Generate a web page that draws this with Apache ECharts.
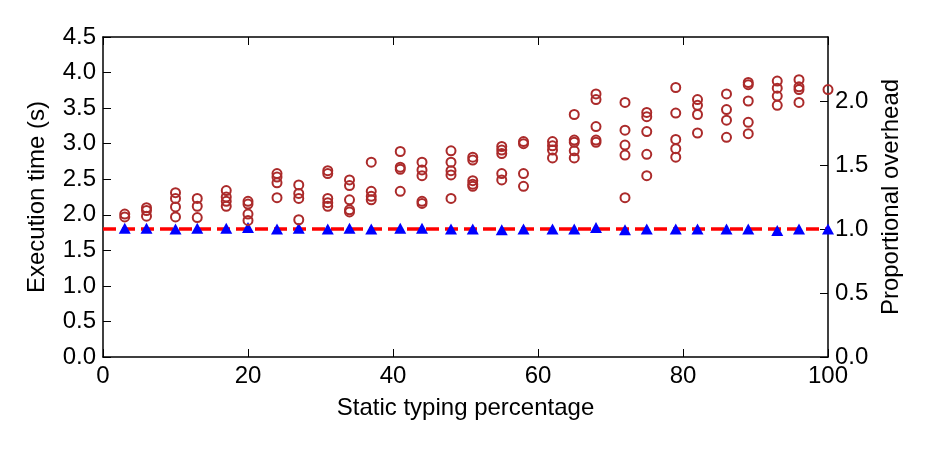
<!DOCTYPE html>
<html>
<head>
<meta charset="utf-8">
<script src="https://cdn.jsdelivr.net/npm/echarts@6/dist/echarts.min.js"></script>
<style>
  html, body { margin: 0; padding: 0; background: #fff; }
  #chart { width: 930px; height: 450px; }
</style>
</head>
<body>
<div id="chart"></div>
<script>
// static typing percentage of each configuration group
var typedPct = [3, 6, 10, 13, 17, 20, 24, 27, 31, 34, 37, 41, 44, 48, 51, 55, 58, 62, 65, 68, 72, 75, 79, 82, 86, 89, 93, 96, 100];

// execution times (s) of runs at each percentage
var runTimes = [
    [2.01, 1.97],
    [2.10, 2.06, 1.98],
    [2.31, 2.23, 2.11, 1.97],
    [2.23, 2.12, 1.96],
    [2.34, 2.25, 2.19, 2.12],
    [2.19, 2.15, 2.01, 1.92],
    [2.58, 2.53, 2.45, 2.24],
    [2.42, 2.30, 2.23, 1.93],
    [2.62, 2.58, 2.23, 2.17, 2.12],
    [2.49, 2.41, 2.21, 2.07, 2.04],
    [2.74, 2.33, 2.26, 2.21],
    [2.89, 2.67, 2.64, 2.33],
    [2.74, 2.63, 2.55, 2.19, 2.16],
    [2.90, 2.74, 2.62, 2.56, 2.23],
    [2.81, 2.77, 2.48, 2.43, 2.40],
    [2.96, 2.91, 2.86, 2.58, 2.49],
    [3.03, 3.00, 2.58, 2.40],
    [3.03, 2.97, 2.91, 2.80],
    [3.41, 3.05, 3.02, 2.90, 2.80],
    [3.70, 3.62, 3.24, 3.05, 3.02],
    [3.58, 3.19, 2.98, 2.84, 2.24],
    [3.44, 3.38, 3.17, 2.85, 2.55],
    [3.79, 3.43, 3.06, 2.93, 2.81],
    [3.62, 3.54, 3.41, 3.15],
    [3.70, 3.48, 3.33, 3.09],
    [3.86, 3.83, 3.60, 3.30, 3.14],
    [3.88, 3.78, 3.67, 3.54],
    [3.90, 3.80, 3.76, 3.58],
    [3.76]
];

// untyped baseline time (s) at each percentage
var baseTimes = [1.81, 1.81, 1.80, 1.81, 1.81, 1.82, 1.80, 1.81, 1.80, 1.81, 1.80, 1.81, 1.81, 1.80, 1.80,
    1.79, 1.80, 1.80, 1.80, 1.82, 1.79, 1.80, 1.80, 1.80, 1.80, 1.80, 1.78, 1.80, 1.80];

// overhead reference line (proportional, right axis)
var overheadLine = [[0, 1.0], [100, 1.0]];

var timeTicks = [0, 4.5, 0.5];     // min, max, step
var overheadTicks = [0, 2.5, 0.5];

var runData = [];
for (var i = 0; i < typedPct.length; i++) {
    for (var j = 0; j < runTimes[i].length; j++) {
        runData.push([typedPct[i], runTimes[i][j]]);
    }
}
var baseData = [];
for (var k = 0; k < typedPct.length; k++) {
    baseData.push([typedPct[k], baseTimes[k]]);
}

var FONT = 'Liberation Sans';
var FS = 24;
var tick = { show: true, inside: true, length: 8, lineStyle: { color: '#000', width: 1 } };
var axisLine = { show: true, onZero: false, lineStyle: { color: '#000', width: 1.5 } };
var nameStyle = { fontFamily: FONT, fontSize: FS, color: '#000' };

var chart = echarts.init(document.getElementById('chart'));
chart.setOption({
    animation: false,
    backgroundColor: '#fff',
    grid: { left: 103, right: 102, top: 37, bottom: 93 },
    xAxis: [{
        type: 'value', min: 0, max: 100, interval: 20,
        name: 'Static typing percentage', nameLocation: 'middle', nameGap: 39,
        nameTextStyle: nameStyle,
        axisLine: axisLine, axisTick: tick, splitLine: { show: false },
        axisLabel: { fontFamily: FONT, fontSize: FS, color: '#000', margin: 7 }
    }, {
        type: 'value', min: 0, max: 100, interval: 20, position: 'top',
        axisLine: axisLine, axisTick: tick, splitLine: { show: false },
        axisLabel: { show: false }
    }],
    yAxis: [{
        type: 'value', min: timeTicks[0], max: timeTicks[1], interval: timeTicks[2],
        name: 'Execution time (s)', nameLocation: 'middle', nameGap: 54,
        nameTextStyle: nameStyle,
        axisLine: axisLine, axisTick: tick, splitLine: { show: false },
        axisLabel: { fontFamily: FONT, fontSize: FS, color: '#000', margin: 7,
            formatter: function (v) { return v.toFixed(1); } }
    }, {
        type: 'value', min: overheadTicks[0], max: overheadTicks[1], interval: overheadTicks[2],
        position: 'right',
        name: 'Proportional overhead', nameLocation: 'middle', nameGap: 50,
        nameRotate: 90,
        nameTextStyle: nameStyle,
        axisLine: axisLine, axisTick: tick, splitLine: { show: false },
        axisLabel: { fontFamily: FONT, fontSize: FS, color: '#000', margin: 7, showMaxLabel: false,
            formatter: function (v) { return v.toFixed(1); } }
    }],
    series: [{
        type: 'line', yAxisIndex: 1, data: overheadLine, symbol: 'none', z: 2,
        lineStyle: { color: '#ff0000', width: 3.5, type: [13, 6] }
    }, {
        type: 'scatter', data: baseData, symbol: 'triangle', symbolSize: [12, 11], z: 3,
        clip: false,
        itemStyle: { color: '#0000ff', opacity: 1 }
    }, {
        type: 'scatter', data: runData, symbol: 'circle', symbolSize: 9, z: 4,
        clip: false,
        itemStyle: { color: 'rgba(0,0,0,0)', borderColor: '#ab2a2a', borderWidth: 2, opacity: 1 }
    }]
});
</script>
</body>
</html>
